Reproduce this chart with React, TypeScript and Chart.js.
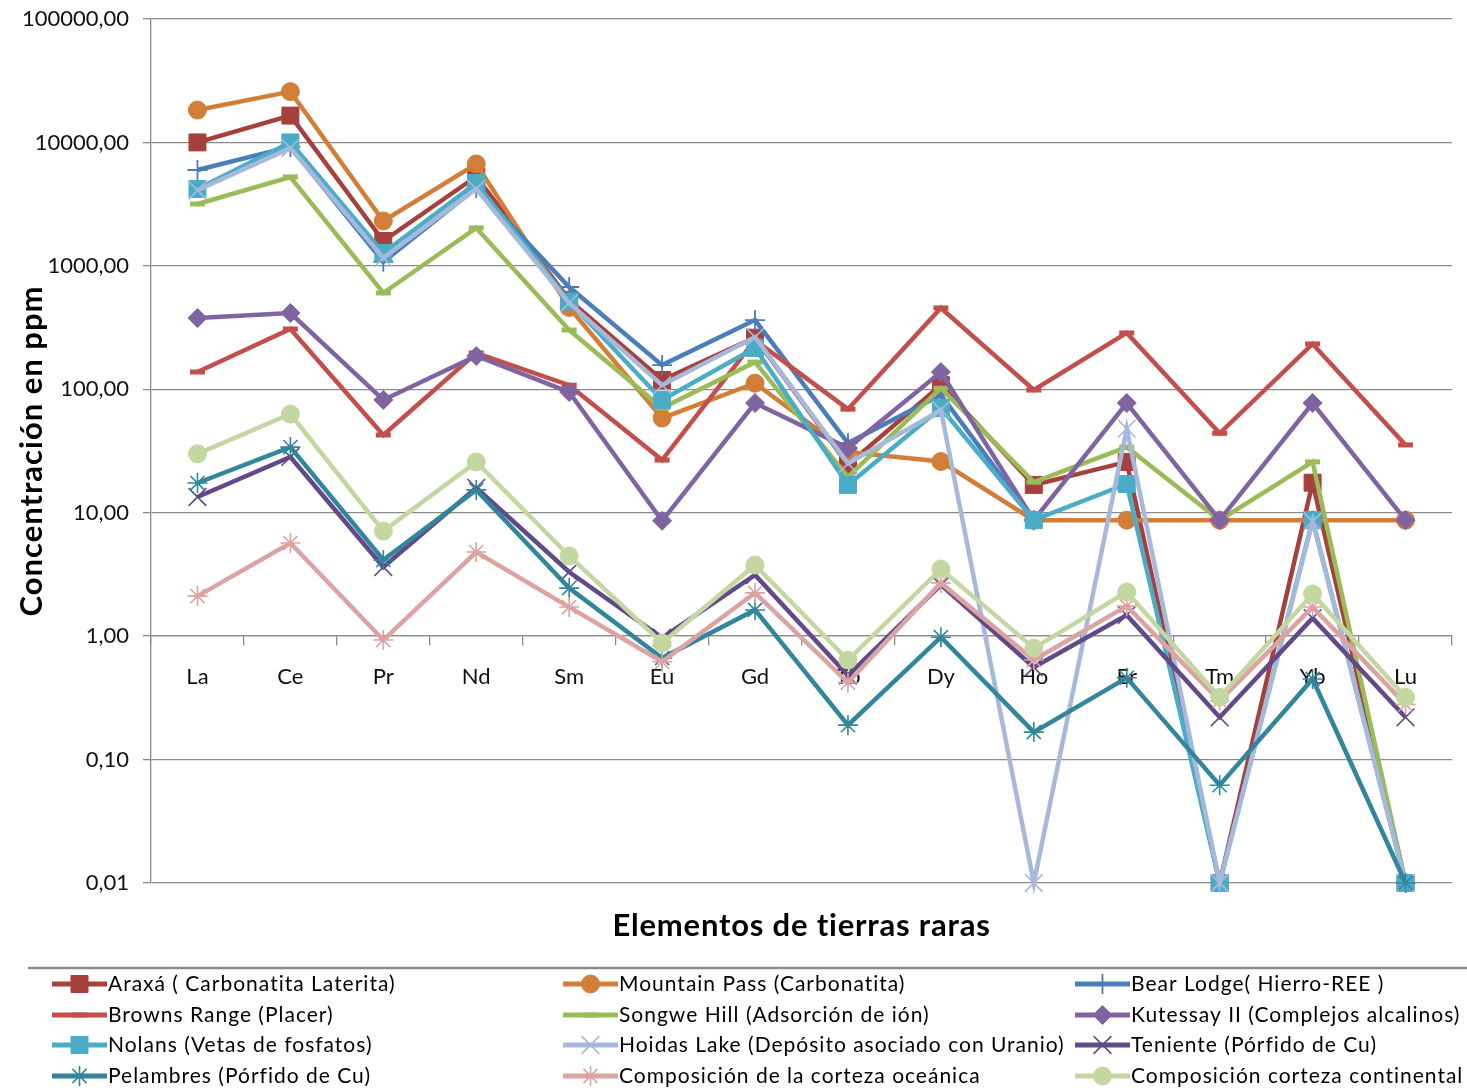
import React, { useEffect, useRef } from 'react';
import { Chart, registerables } from 'chart.js';
import { drawPoint } from 'chart.js/helpers';

Chart.register(...registerables);

// Rare earth elements (Pm omitted)
const elements = ['La', 'Ce', 'Pr', 'Nd', 'Sm', 'Eu', 'Gd', 'Tb', 'Dy', 'Ho', 'Er', 'Tm', 'Yb', 'Lu'];

// Concentrations in ppm, one array per deposit / reference composition
const araxa = [10000, 16500, 1590, 5300, 530, 119, 262, 24.5, 108, 16.8, 25.8, 0.01, 17.5, 0.01];
const mountainPass = [18300, 25800, 2310, 6690, 460, 58.5, 112, 31, 26, 8.7, 8.7, 8.7, 8.7, 8.7];
const bearLodge = [5980, 9200, 1080, 4270, 674, 157, 364, 36.7, 90, 8.7, null, null, null, null];
const brownsRange = [138, 308, 42.6, 197, 108, 26.7, 250, 69, 456, 98.6, 286, 44, 233, 35.4];
const songweHill = [3170, 5250, 603, 2030, 302, 70.5, 166, 19.5, 102, 17.7, 34, 8.7, 25.8, 0.01];
const kutessay = [378, 415, 82, 186, 95, 8.6, 77.4, 33.4, 138, 8.7, 77.4, 8.7, 77.4, 8.7];
const nolans = [4200, 10000, 1270, 4690, 515, 82, 216, 16.8, 70.5, 8.7, 17.1, 0.01, 8.7, 0.01];
const hoidasLake = [4100, 9000, 1160, 4200, 500, 108, 265, 25, 68, 0.01, 48, 0.01, 8.5, 0.01];
const teniente = [13.4, 28.3, 3.63, 15.9, 3.31, 0.97, 3.13, 0.48, 2.6, 0.56, 1.48, 0.22, 1.4, 0.22];
const pelambres = [17.4, 34, 4.14, 15.3, 2.45, 0.665, 1.63, 0.19, 0.98, 0.167, 0.46, 0.062, 0.45, 0.01];
const oceanicCrust = [2.11, 5.68, 0.93, 4.8, 1.72, 0.62, 2.24, 0.42, 2.7, 0.64, 1.75, 0.3, 1.72, 0.28];
const continentalCrust = [30, 63, 7.1, 25.8, 4.46, 0.88, 3.77, 0.64, 3.5, 0.8, 2.28, 0.32, 2.2, 0.32];

// Decade ticks of the logarithmic axis
const yTickExponents = [-2, -1, 0, 1, 2, 3, 4, 5];

const xTitle = 'Elementos de tierras raras';
const yTitle = 'Concentración en ppm';

const FONT = "Lato, 'Open Sans', sans-serif";
const GRID = '#8a8a8a';
const TEXT = '#111111';

type Series = {
  label: string;
  data: (number | null)[];
  color: string;
  pointStyle: string;
  radius: number;
  pointBorder: number;
};

const series: Series[] = [
  { label: 'Araxá ( Carbonatita Laterita)', data: araxa, color: '#A5403D', pointStyle: 'rect', radius: 12, pointBorder: 1 },
  { label: 'Mountain Pass (Carbonatita)', data: mountainPass, color: '#D27E38', pointStyle: 'circle', radius: 9, pointBorder: 1 },
  { label: 'Bear Lodge( Hierro-REE )', data: bearLodge, color: '#4A7EBB', pointStyle: 'cross', radius: 10, pointBorder: 1.8 },
  { label: 'Browns Range (Placer)', data: brownsRange, color: '#C24F4C', pointStyle: 'line', radius: 7.5, pointBorder: 5 },
  { label: 'Songwe Hill (Adsorción de ión)', data: songweHill, color: '#9BBB59', pointStyle: 'line', radius: 7.5, pointBorder: 5 },
  { label: 'Kutessay II (Complejos alcalinos)', data: kutessay, color: '#8064A2', pointStyle: 'rectRot', radius: 9.5, pointBorder: 1 },
  { label: 'Nolans (Vetas de fosfatos)', data: nolans, color: '#4BACC6', pointStyle: 'rect', radius: 12, pointBorder: 1 },
  { label: 'Hoidas Lake (Depósito asociado con Uranio)', data: hoidasLake, color: '#A7B9DA', pointStyle: 'crossRot', radius: 12.5, pointBorder: 1.6 },
  { label: 'Teniente (Pórfido de Cu)', data: teniente, color: '#614A87', pointStyle: 'crossRot', radius: 12.5, pointBorder: 1.6 },
  { label: 'Pelambres (Pórfido de Cu)', data: pelambres, color: '#31869C', pointStyle: 'star', radius: 10, pointBorder: 1.6 },
  { label: 'Composición de la corteza oceánica', data: oceanicCrust, color: '#DBA3A2', pointStyle: 'star', radius: 10, pointBorder: 1.6 },
  { label: 'Composición corteza continental', data: continentalCrust, color: '#C4D7A0', pointStyle: 'circle', radius: 9, pointBorder: 1 },
];

const formatTick = (v: number) => Number(v).toFixed(2).replace('.', ',');

// Axis titles and the three-column legend under the plot
const decorations = {
  id: 'decorations',
  afterDraw(chart: any) {
    const { ctx, chartArea } = chart;
    ctx.save();

    ctx.fillStyle = '#000';
    ctx.font = `bold 31px ${FONT}`;
    ctx.letterSpacing = '0.8px';
    ctx.textAlign = 'center';
    ctx.textBaseline = 'middle';
    ctx.fillText(xTitle, (chartArea.left + chartArea.right) / 2, 926);

    ctx.save();
    ctx.letterSpacing = '1px';
    ctx.translate(32, (chartArea.top + chartArea.bottom) / 2);
    ctx.rotate(-Math.PI / 2);
    ctx.fillText(yTitle, 0, 0);
    ctx.restore();

    // separator above the legend
    ctx.strokeStyle = '#8c8c8c';
    ctx.lineWidth = 2.5;
    ctx.beginPath();
    ctx.moveTo(28, 968);
    ctx.lineTo(chart.width, 968);
    ctx.stroke();

    const colX = [52, 563, 1075];
    const rowY = [984, 1015, 1045, 1076];
    const lineLen = 55;
    series.forEach((s, i) => {
      const x0 = colX[i % 3];
      const y = rowY[Math.floor(i / 3)];
      ctx.strokeStyle = s.color;
      ctx.lineWidth = 5;
      ctx.lineCap = 'butt';
      ctx.beginPath();
      ctx.moveTo(x0, y);
      ctx.lineTo(x0 + lineLen, y);
      ctx.stroke();

      ctx.fillStyle = s.color;
      ctx.strokeStyle = s.color;
      ctx.lineWidth = s.pointBorder;
      drawPoint(ctx, { pointStyle: s.pointStyle as any, rotation: 0, radius: s.radius, borderWidth: s.pointBorder }, x0 + lineLen / 2, y);

      ctx.fillStyle = '#000';
      ctx.font = `21px ${FONT}`;
      ctx.letterSpacing = '1px';
      ctx.textAlign = 'left';
      ctx.textBaseline = 'middle';
      ctx.fillText(s.label, x0 + lineLen + 1, y);
    });

    ctx.restore();
  },
};

export default function App() {
  const canvasRef = useRef<HTMLCanvasElement | null>(null);

  useEffect(() => {
    document.body.style.margin = '0';
    const canvas = canvasRef.current;
    if (!canvas) return;

    const chart = new Chart(canvas, {
      type: 'line',
      data: {
        labels: elements,
        datasets: series.map((s, i) => ({
          label: s.label,
          data: s.data,
          borderColor: s.color,
          backgroundColor: s.color,
          borderWidth: 4.5,
          pointStyle: s.pointStyle as any,
          pointRadius: s.radius,
          pointHoverRadius: s.radius,
          pointBorderWidth: s.pointBorder,
          pointBackgroundColor: s.color,
          pointBorderColor: s.color,
          tension: 0,
          fill: false,
          clip: false as any,
          order: series.length - i,
        })),
      },
      options: {
        responsive: false,
        animation: false,
        devicePixelRatio: 1,
        layout: { padding: { top: 19, right: 15, bottom: 208, left: 0 } },
        plugins: {
          legend: { display: false },
          tooltip: { enabled: false },
        },
        scales: {
          x: {
            type: 'category',
            position: { y: 1 } as any,
            offset: true,
            grid: {
              offset: true,
              drawOnChartArea: false,
              drawTicks: true,
              tickLength: 9,
              color: GRID,
              lineWidth: 1.3,
            },
            border: { color: GRID, width: 1.3 },
            ticks: {
              font: { family: FONT, size: 22 },
              color: TEXT,
              padding: 19,
              maxRotation: 0,
              autoSkip: false,
            },
          },
          y: {
            type: 'logarithmic',
            position: 'left',
            min: 0.01,
            max: 100000,
            afterBuildTicks: (scale: any) => {
              scale.ticks = yTickExponents.map((e) => ({ value: Math.pow(10, e) }));
            },
            afterFit: (scale: any) => {
              scale.width = 151;
              scale.paddingTop = 0;
              scale.paddingBottom = 0;
            },
            grid: { color: GRID, lineWidth: 1.3, tickLength: 8 },
            border: { color: GRID, width: 1.3 },
            ticks: {
              font: { family: FONT, size: 22 },
              color: TEXT,
              padding: 14,
              callback: (v: any) => formatTick(Number(v)),
            },
          },
        },
      },
      plugins: [decorations],
    });

    return () => chart.destroy();
  }, []);

  return (
    <div style={{ width: 1467, height: 1091, background: '#fff' }}>
      <canvas ref={canvasRef} width={1467} height={1091} style={{ display: 'block' }} />
    </div>
  );
}
